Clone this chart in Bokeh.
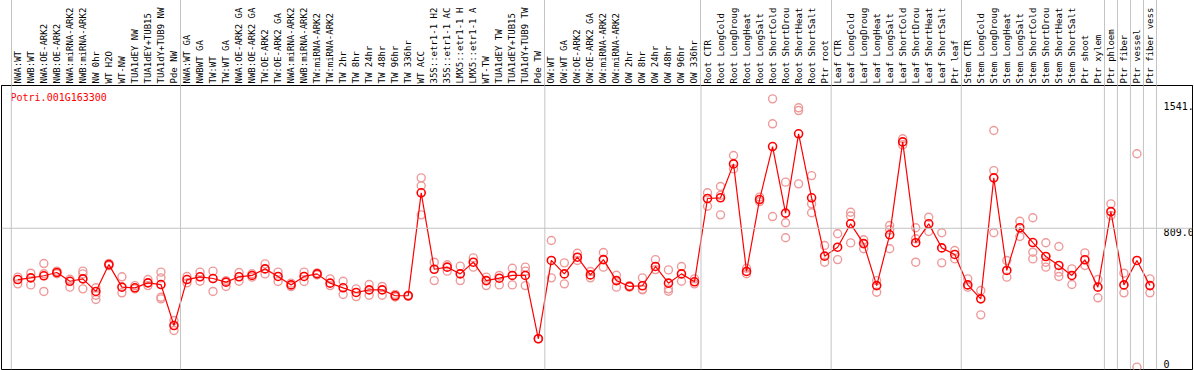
import math
from bokeh.plotting import figure
from bokeh.models import Range1d, Span, ColumnDataSource, LinearAxis, FixedTicker
from bokeh.core.properties import value
from bokeh.embed import file_html
from bokeh.resources import INLINE

gene_id = "Potri.001G163300"

labels = [
    "NWA:WT", "NWB:WT", "NWA:OE-ARK2", "NWB:OE-ARK2", "NWA:miRNA-ARK2", "NWB:miRNA-ARK2",
    "NW 0hr", "WT H2O", "WT-NW", "TUA1dEY NW", "TUA1dEY+TUB15", "TUA1dY+TUB9 NW", "Pde NW",
    "NWA:WT GA", "NWBWT GA", "TW:WT", "TW:WT GA", "NWA:OE-ARK2 GA", "NWB:OE-ARK2 GA",
    "TW:OE-ARK2", "TW:OE-ARK2 GA", "NWA:miRNA-ARK2", "NWB:miRNA-ARK2", "TW:miRNA-ARK2",
    "TW:miRNA-ARK2", "TW 2hr", "TW 8hr", "TW 24hr", "TW 48hr", "TW 96hr", "TW 336hr",
    "WT ACC", "35S::etr1-1 H2", "35S::etr1-1 AC", "LMX5::etr1-1 H", "LMX5::etr1-1 A",
    "WT-TW", "TUA1dEY TW", "TUA1dEY+TUB15", "TUA1dY+TUB9 TW", "Pde TW",
    "OW:WT", "OW:WT GA", "OW:OE-ARK2", "OW:OE-ARK2 GA", "OW:miRNA-ARK2", "OW:miRNA-ARK2",
    "OW 2hr", "OW 8hr", "OW 24hr", "OW 48hr", "OW 96hr", "OW 336hr",
    "Root CTR", "Root LongCold", "Root LongDroug", "Root LongHeat", "Root LongSalt",
    "Root ShortCold", "Root ShortDrou", "Root ShortHeat", "Root ShortSalt", "Ptr root",
    "Leaf CTR", "Leaf LongCold", "Leaf LongDroug", "Leaf LongHeat", "Leaf LongSalt",
    "Leaf ShortCold", "Leaf ShortDrou", "Leaf ShortHeat", "Leaf ShortSalt", "Ptr leaf",
    "Stem CTR", "Stem LongCold", "Stem LongDroug", "Stem LongHeat", "Stem LongSalt",
    "Stem ShortCold", "Stem ShortDrou", "Stem ShortHeat", "Stem ShortSalt", "Ptr shoot",
    "Ptr xylem", "Ptr phloem", "Ptr fiber", "Ptr vessel", "Ptr fiber vess",
]

means = [
    511, 521, 533, 552, 501, 515, 442, 598, 467, 463, 492, 482, 244,
    511, 527, 517, 496, 527, 535, 573, 529, 480, 529, 544, 490, 463, 436, 451, 451, 417, 417,
    1015, 571, 583, 544, 612, 505, 519, 535, 535, 167,
    622, 544, 641, 538, 627, 505, 471, 475, 587, 490, 544, 498,
    982, 986, 1183, 558, 976, 1284, 897, 1358, 986, 647,
    699, 835, 720, 476, 771, 1311, 725, 835, 695, 657,
    480, 399, 1102, 564, 812, 726, 645, 593, 535, 626, 467,
    906, 480, 622, 476,
]

replicates = [
    [525, 486], [548, 480], [604, 545, 442], [560, 545], [513, 467], [560, 544, 457],
    [463, 420, 395], [605, 592], [527, 434], [476, 457], [511, 476], [554, 521, 408, 399], [273, 215],
    [529, 492], [554, 501], [560, 442], [505, 471], [552, 501], [545, 525], [602, 544],
    [554, 500], [490, 470], [554, 500], [550, 538], [515, 476], [501, 424], [457, 412],
    [482, 420], [471, 420], [425, 410], [420, 414], [1102, 1056, 887], [612, 505], [597, 560],
    [589, 505], [637, 583], [525, 476], [535, 480], [577, 480], [583, 560, 476], [167],
    [738, 521], [608, 486], [664, 622], [558, 521], [668, 583], [536, 467], [475, 467],
    [521, 451, 455], [627, 569], [567, 457, 443], [587, 501], [515, 486],
    [1015, 937], [1052, 887, 1000], [1232, 1154], [577, 545], [964, 990], [1561, 1416, 877],
    [1077, 841, 754], [1509, 1493, 1067], [1115, 951, 899], [709, 612],
    [777, 627], [902, 724, 880], [742, 690], [505, 437], [825, 690, 800], [1329, 1294],
    [812, 748, 612], [873, 790], [783, 608], [680, 631],
    [515, 467], [447, 306], [1377, 1144, 783], [622, 525], [850, 761], [870, 670, 631],
    [725, 612, 583], [703, 554, 529], [573, 482], [666, 593], [511, 405],
    [951, 883], [548, 434], [1242, 2], [515, 434],
]

group_bounds = [0, 13, 41, 53, 63, 73, 84, 85, 86, 87, 88]
gridline_value = 809
tick_values = [1541, 809, 0]
tick_labels = ["1541.", "809.0", "0"]
tick_baselines = ["top", "top", "bottom"]

n = len(labels)
assert len(means) == n and len(replicates) == n

MONO = "DejaVu Sans Mono"
GRID = "#c4c4c4"

p = figure(width=1194, height=370,
           x_range=Range1d(-0.753, 90.77), y_range=Range1d(-11.6, 1638.6),
           x_axis_type=None, y_axis_type=None, toolbar_location=None,
           output_backend="svg", min_border_left=1, min_border_right=2,
           min_border_top=85, min_border_bottom=1,
           outline_line_color="black", outline_line_width=1,
           background_fill_color="white", border_fill_color="white")

# sample names along the top; minor ticks (drawn outward) give the group separators in the header
centers = [i + 0.5 for i in range(n)]
top_axis = LinearAxis(ticker=FixedTicker(ticks=centers, minor_ticks=group_bounds),
                      major_label_overrides={c: t for c, t in zip(centers, labels)},
                      major_label_orientation="vertical",
                      major_label_standoff=2,
                      major_label_text_font=MONO, major_label_text_font_size="9px",
                      major_label_text_color="black",
                      major_tick_in=0, major_tick_out=0, major_tick_line_color=None,
                      minor_tick_in=-90, minor_tick_out=0, minor_tick_line_color=GRID,
                      axis_line_color="black")
p.add_layout(top_axis, "above")

for b in group_bounds:
    p.add_layout(Span(location=b, dimension="height", line_color=GRID, line_width=1))
p.add_layout(Span(location=gridline_value, dimension="width", line_color=GRID, line_width=1))

rx, ry = [], []
for i, reps in enumerate(replicates):
    for v in reps:
        rx.append(i + 0.5)
        ry.append(v)
p.scatter(rx, ry, marker="circle", size=8, fill_color=None,
          line_color="#ee9a9a", line_width=1.4)

p.line(centers, means, line_color="red", line_width=1.2)
p.scatter(centers, means, marker="circle", size=8, fill_color=None,
          line_color="red", line_width=1.6)

tsrc = ColumnDataSource(dict(x=[n + 0.55] * len(tick_values), y=tick_values,
                             t=tick_labels, b=tick_baselines))
p.text(x="x", y="y", text="t", text_baseline="b", source=tsrc,
       text_align="left", text_font=value(MONO), text_font_size="10px",
       text_color="black")

p.text(x=[-0.06], y=[1569], text=[gene_id],
       text_color="red", text_font=value(MONO), text_font_size="10px",
       text_baseline="middle", text_align="left")

open("out.html", "w").write(file_html(p, INLINE))
